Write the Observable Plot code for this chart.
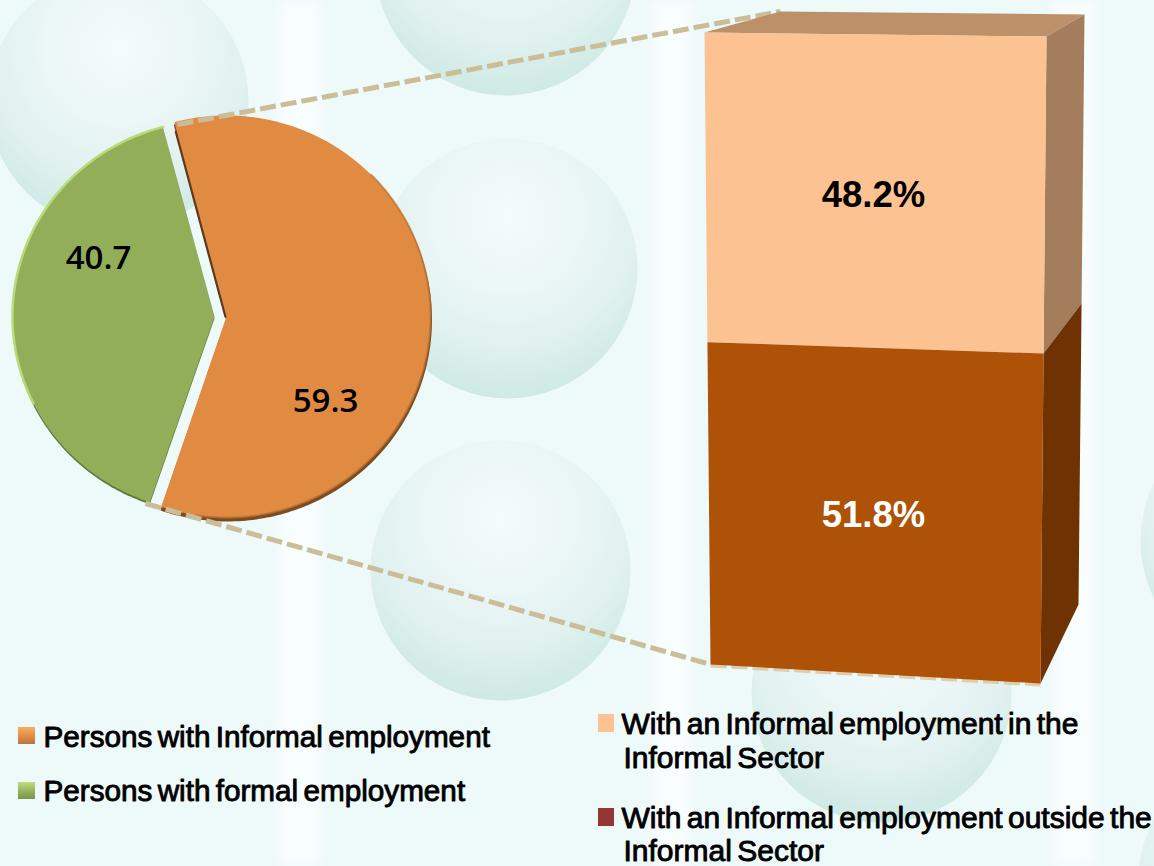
<!DOCTYPE html>
<html>
<head>
<meta charset="utf-8">
<script src="https://cdn.jsdelivr.net/npm/d3@7"></script>
<script src="https://cdn.jsdelivr.net/npm/@observablehq/plot@0.6"></script>
<style>
html,body{margin:0;padding:0;background:#eef9fa;overflow:hidden}
svg{display:block}
svg text{word-spacing:-3px}
</style>
</head>
<body>
<div id="chart"></div>
<script>
// ---- data ----
const pieCategories = ["Persons with Informal employment", "Persons with formal employment"];
const pieValues = [59.3, 40.7];
const pieColors = ["#e08a42", "#93ae58"];
const barCategories = ["With an Informal employment in the Informal Sector", "With an Informal employment outside the Informal Sector"];
const barValues = [48.2, 51.8];
const barLabels = ["48.2%", "51.8%"];
const barColors = ["#fdc292", "#ae5208"];

// ---- layout (page pixels, used as the x/y scale domain) ----
const W = 1154, H = 866;
const rad = d => d * Math.PI / 180;
const pieStart = rad(-14.8);
const apex = [{x: 226, y: 316}, {x: 214, y: 316}];
const radii = [{rx: 204, ry: 201}, {rx: 202, ry: 196}];
const pieLabelAt = [{x: 325, y: 401}, {x: 98, y: 258}];

const arcs = d3.pie().sort(null).startAngle(pieStart).endAngle(pieStart + 2 * Math.PI)(pieValues);
function arcPts(i, a0 = arcs[i].startAngle, a1 = arcs[i].endAngle) {
  const n = Math.ceil((a1 - a0) / rad(1)), out = [];
  for (let k = 0; k <= n; k++) {
    const a = a0 + (a1 - a0) * k / n;
    out.push({x: apex[i].x + radii[i].rx * Math.sin(a), y: apex[i].y - radii[i].ry * Math.cos(a), i});
  }
  return out;
}
const slices = arcs.map((_, i) => [{x: apex[i].x, y: apex[i].y, i}, ...arcPts(i), {x: apex[i].x, y: apex[i].y, i}]).flat();
const shadowO = slices.filter(p => p.i === 0).map(p => ({x: p.x + 0.5, y: p.y + 3, i: 0}));
const shadowG = slices.filter(p => p.i === 1).map(p => ({x: p.x, y: p.y + 2, i: 1}));
const rimStart = arcPts(0)[0];
const orangeEdge = [
  {x: apex[0].x - 1, y: apex[0].y},
  {x: apex[0].x + (rimStart.x - apex[0].x) * 0.95 - 1, y: apex[0].y + (rimStart.y - apex[0].y) * 0.95}
];

// 3-D column: three vertical edges, cut by the stacked share
const edges = {
  fl: [[704, 32], [710, 664]],
  fr: [[1046, 36], [1040, 683]],
  br: [[1084, 14], [1078, 604]]
};
const backTop = [780, 11];
const share = barValues[0] / d3.sum(barValues);
const warp = f => f / (f + (1 - f) * 0.9685);   // slight perspective
const along = (e, t) => ({x: e[0][0] + (e[1][0] - e[0][0]) * t, y: e[0][1] + (e[1][1] - e[0][1]) * t});
const cut = warp(share);
const P = (e, t) => along(edges[e], t);
const facets = [
  {fill: "#bc9069", pts: [P("fl", 0), {x: backTop[0], y: backTop[1]}, P("br", 0), P("fr", 0)]},
  {fill: "#a37d5c", pts: [P("fr", 0), P("br", 0), P("br", cut), P("fr", cut)]},
  {fill: "#6e3203", pts: [P("fr", cut), P("br", cut), P("br", 1), P("fr", 1)]},
  {fill: barColors[0], pts: [P("fl", 0), P("fr", 0), P("fr", cut), P("fl", cut)]},
  {fill: barColors[1], pts: [P("fl", cut), P("fr", cut), P("fr", 1), P("fl", 1)]}
].flatMap((f, k) => f.pts.map(p => ({...p, k, fill: f.fill})));
const barText = [
  {x: 873, y: (P("fl", 0).y + P("fl", cut).y) / 2 + 8, t: barLabels[0], c: "#000"},
  {x: 873, y: (P("fl", cut).y + P("fl", 1).y) / 2 + 12, t: barLabels[1], c: "#fff"}
];

// leader lines
const leaders = [
  [{x: 177, y: 124}, {x: 780, y: 11}],
  [{x: 145, y: 503}, {x: 710, y: 664}]
].flatMap((l, k) => l.map(p => ({...p, k})));
const leaderBase = [{x: 710, y: 665}, {x: 1040, y: 684}];

// backdrop
const spheres = [
  {x: 505, y: -35}, {x: 118, y: 100}, {x: 507, y: 268}, {x: 500, y: 570},
  {x: 881, y: 692}, {x: 1270, y: 540}, {x: 1268, y: 880}
];
const bands = [{x1: 278, x2: 322}, {x1: 652, x2: 692}, {x1: 1052, x2: 1096}];

// legend
const legendBoxes = [
  {x1: 18, x2: 35, y1: 727, y2: 744, fill: "url(#swO)"},
  {x1: 18, x2: 35, y1: 782, y2: 799, fill: "url(#swG)"},
  {x1: 598, x2: 614, y1: 714, y2: 732, fill: barColors[0]},
  {x1: 598, x2: 614, y1: 808, y2: 826, fill: "#943634"}
];
const legendLeft = [
  {x: 43, y: 737, t: pieCategories[0]},
  {x: 43, y: 791, t: pieCategories[1]}
];
const legendRight = [
  {x: 621, y: 724, t: "With an Informal employment in the"},
  {x: 623, y: 758, t: "Informal Sector"},
  {x: 621, y: 818, t: "With an Informal employment outside the"},
  {x: 623, y: 851, t: "Informal Sector"}
];
const leaderStyle = {x: "x", y: "y", stroke: "#c9be98", strokeWidth: 5, strokeDasharray: "16 5", strokeLinecap: "butt"};
const legendStyle = {x: "x", y: "y", text: "t", textAnchor: "start", fontFamily: "Liberation Sans", fill: "#000", stroke: "#000", strokeWidth: 0.9};

const chart = Plot.plot({
  width: W, height: H, margin: 0,
  x: {domain: [0, W], range: [0, W], axis: null},
  y: {domain: [0, H], range: [0, H], axis: null},
  style: {background: "#eef9fa"},
  marks: [
    Plot.rect(bands, {x1: "x1", x2: "x2", y1: 0, y2: H, fill: "#fff", fillOpacity: 0.6, imageFilter: "blur(6px)"}),
    Plot.dot(spheres, {x: "x", y: "y", r: 130, fill: "url(#sphere)", stroke: "none"}),
    Plot.line(leaderBase, {...leaderStyle, stroke: "#dccdac", strokeWidth: 4}),
    // pie
    Plot.line(shadowO, {x: "x", y: "y", fill: "#7a4c22", stroke: "#7a4c22", strokeWidth: 2}),
    Plot.line(shadowG, {x: "x", y: "y", fill: "#5f7a38", stroke: "none"}),
    Plot.line(orangeEdge, {x: "x", y: "y", stroke: "#5e3a1c", strokeWidth: 2.5}),
    Plot.line(slices, {x: "x", y: "y", z: "i", fill: d => pieColors[d.i], stroke: "none"}),
    Plot.line(arcPts(1, arcs[1].startAngle + rad(45), arcs[1].endAngle), {x: "x", y: "y", stroke: "#b7db78", strokeWidth: 2.5}),
    Plot.line(arcPts(0, arcs[0].startAngle + rad(60), arcs[0].endAngle - rad(10)), {x: "x", y: "y", stroke: "#bd7231", strokeWidth: 2, strokeOpacity: 0.7}),
    Plot.line(leaders, {...leaderStyle, z: "k"}),
    Plot.text(pieLabelAt, {x: "x", y: "y", text: (d, i) => String(pieValues[i]), fontFamily: "Open Sans", fontSize: 33, fontWeight: 600, fill: "#000"}),
    // column
    Plot.line(facets, {x: "x", y: "y", z: "k", fill: "fill", stroke: "none"}),
    Plot.text(barText, {x: "x", y: "y", text: "t", fill: "c", fontFamily: "Liberation Sans", fontSize: 36.5, fontWeight: 700}),
    // legend
    Plot.rect(legendBoxes, {x1: "x1", x2: "x2", y1: "y1", y2: "y2", fill: "fill"}),
    Plot.text(legendLeft, {...legendStyle, fontSize: 29.7}),
    Plot.text(legendRight, {...legendStyle, fontSize: 30})
  ]
});

const ns = "http://www.w3.org/2000/svg";
const defs = document.createElementNS(ns, "defs");
defs.innerHTML = `
<radialGradient id="sphere" cx="0.5" cy="0.3" r="0.72">
  <stop offset="0" stop-color="#f4fbfb"/><stop offset="0.4" stop-color="#ebf6f6"/><stop offset="0.7" stop-color="#e0f1ef"/><stop offset="0.9" stop-color="#d2ebe7"/><stop offset="1" stop-color="#cdeae5"/>
</radialGradient>
<linearGradient id="swO" x1="0" y1="0" x2="0" y2="1">
  <stop offset="0" stop-color="#f4b060"/><stop offset="0.6" stop-color="#e08a42"/><stop offset="1" stop-color="#b8743c"/>
</linearGradient>
<linearGradient id="swG" x1="0" y1="0" x2="0" y2="1">
  <stop offset="0" stop-color="#c2dc84"/><stop offset="0.6" stop-color="#93ae58"/><stop offset="1" stop-color="#7a9448"/>
</linearGradient>`;
chart.prepend(defs);
document.getElementById("chart").append(chart);
</script>
</body>
</html>
